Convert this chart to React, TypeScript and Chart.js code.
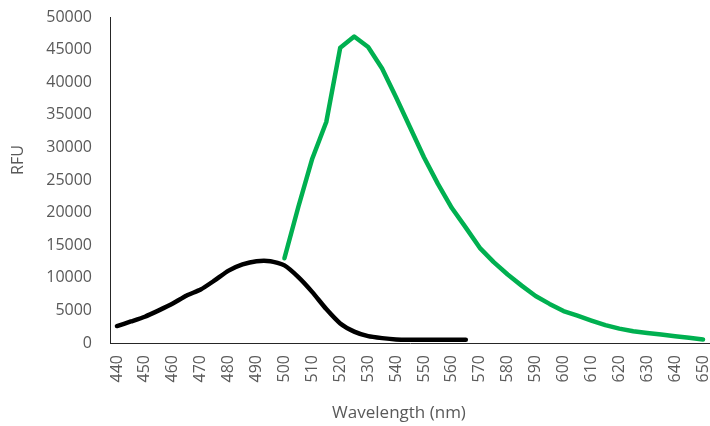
import React, { useEffect, useRef } from "react";
import { Chart, registerables } from "chart.js";

Chart.register(...registerables);

const wavelengths: string[] = [
  "440", "445", "450", "455", "460", "465", "470", "475", "480", "485",
  "490", "495", "500", "505", "510", "515", "520", "525", "530", "535",
  "540", "545", "550", "555", "560", "565", "570", "575", "580", "585",
  "590", "595", "600", "605", "610", "615", "620", "625", "630", "635",
  "640", "645", "650",
];

// black series: 440–565 nm
const blackSeries: (number | null)[] = [
  2600, 3300, 4030, 5000, 6050, 7300, 8200, 9600, 11100, 12050,
  12550, 12550, 11900, 10100, 7800, 5200, 3000, 1750, 1050, 750,
  550, 500, 500, 500, 500, 500, null, null, null, null,
  null, null, null, null, null, null, null, null, null, null,
  null, null, null,
];

// green series: 500–650 nm
const greenSeries: (number | null)[] = [
  null, null, null, null, null, null, null, null, null, null,
  null, null, 13000, 20900, 28300, 33900, 45300, 47000, 45400, 42100,
  37700, 33100, 28500, 24400, 20700, 17700, 14600, 12400, 10500, 8800,
  7200, 6000, 4900, 4200, 3450, 2750, 2200, 1800, 1550, 1300,
  1050, 800, 550,
];

const yTicks: number[] = [0, 5000, 10000, 15000, 20000, 25000, 30000, 35000, 40000, 45000, 50000];

const xTitle = "Wavelength (nm)";
const yTitle = "RFU";

const FONT = "'Open Sans', 'Liberation Sans', sans-serif";
const TEXT_COLOR = "#595959";

const titlePlugin = {
  id: "excelAxisTitles",
  afterDraw(chart: any) {
    const { ctx, chartArea } = chart;
    ctx.save();
    ctx.fillStyle = TEXT_COLOR;
    ctx.textAlign = "center";
    ctx.textBaseline = "middle";
    // x title
    ctx.font = `17px ${FONT}`;
    const cx = (chartArea.left + chartArea.right) / 2 - 11;
    ctx.fillText(xTitle, cx, 413);
    // y title
    ctx.font = `16px ${FONT}`;
    ctx.translate(18, (chartArea.top + chartArea.bottom) / 2 - 20);
    ctx.rotate(-Math.PI / 2);
    ctx.fillText(yTitle, 0, 0);
    ctx.restore();
  },
};

export default function App() {
  const canvasRef = useRef<HTMLCanvasElement | null>(null);

  useEffect(() => {
    if (!canvasRef.current) return;
    const chart = new Chart(canvasRef.current, {
      type: "line",
      data: {
        labels: wavelengths,
        datasets: [
          {
            data: blackSeries,
            borderColor: "#000000",
            backgroundColor: "#000000",
            borderWidth: 4.5,
            pointRadius: 0,
            tension: 0.2,
            borderCapStyle: "round",
            borderJoinStyle: "round",
            spanGaps: false,
          },
          {
            data: greenSeries,
            borderColor: "#00B050",
            backgroundColor: "#00B050",
            borderWidth: 4.5,
            pointRadius: 0,
            tension: 0,
            borderCapStyle: "round",
            borderJoinStyle: "round",
            spanGaps: false,
          },
        ],
      },
      options: {
        animation: false,
        responsive: true,
        maintainAspectRatio: false,
        layout: { padding: { top: 17, left: 0, right: 0, bottom: 0 } },
        plugins: {
          legend: { display: false },
          tooltip: { enabled: false },
        },
        scales: {
          x: {
            type: "category",
            offset: true,
            grid: { display: false, drawTicks: false },
            border: { display: true, color: "#262626", width: 1 },
            ticks: {
              autoSkip: false,
              maxRotation: 90,
              minRotation: 90,
              padding: 12,
              color: TEXT_COLOR,
              font: { family: FONT, size: 16 },
              callback: (_v: any, i: number) => (i % 2 === 0 ? wavelengths[i] : ""),
            },
            afterFit: (scale: any) => {
              scale.height = 83;
              scale.paddingLeft = 0;
              scale.paddingRight = 0;
            },
          },
          y: {
            min: 0,
            max: 50000,
            afterBuildTicks: (scale: any) => {
              scale.ticks = yTicks.map((v) => ({ value: v }));
            },
            grid: { display: false, drawTicks: false },
            border: { display: true, color: "#262626", width: 1 },
            ticks: {
              padding: 18,
              color: TEXT_COLOR,
              font: { family: FONT, size: 16 },
              callback: (v: any) => String(v),
            },
            afterFit: (scale: any) => {
              scale.width = 110;
              scale.paddingTop = 0;
              scale.paddingBottom = 0;
            },
          },
        },
      },
      plugins: [titlePlugin],
    });
    return () => chart.destroy();
  }, []);

  return (
    <div style={{ position: "absolute", left: 0, top: 0, width: 710, height: 426, background: "#fff" }}>
      <canvas ref={canvasRef} />
    </div>
  );
}
